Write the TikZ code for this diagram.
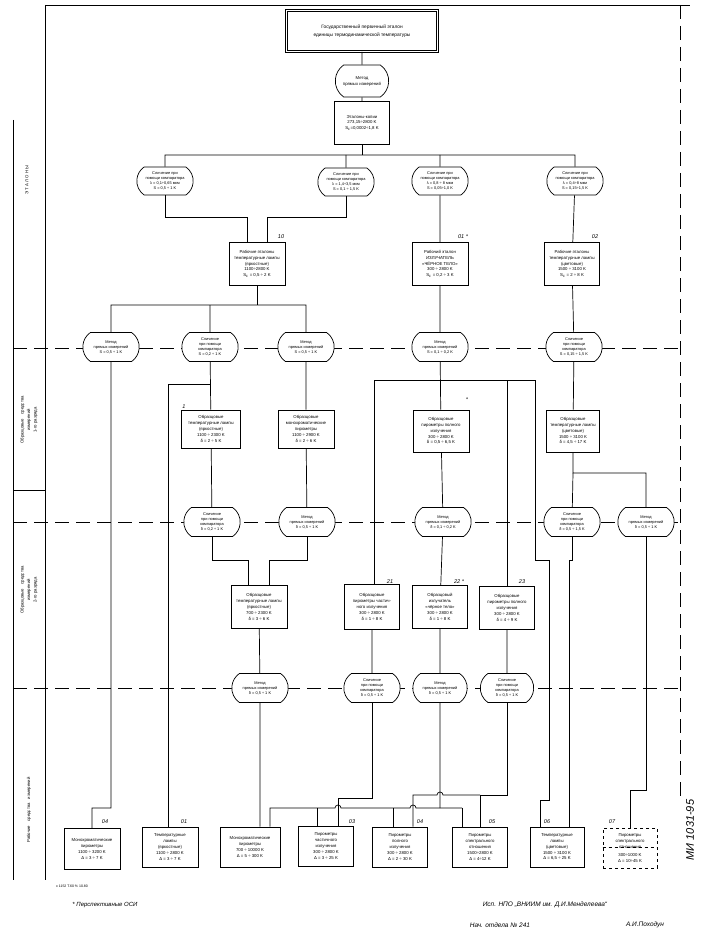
\documentclass[tikz,border=0pt]{standalone}
\usepackage{fontspec}
\setmainfont{Liberation Sans}
\usetikzlibrary{shapes.misc}
\tikzset{
  box/.style={draw, fill=white, align=center, inner sep=0.5pt, font=\fontsize{4.3}{5.8}\selectfont, minimum width=56pt, minimum height=43pt},
  way/.style={draw, fill=white, rounded rectangle, rounded rectangle arc length=110, align=center, inner sep=0.3pt, font=\fontsize{3.9}{5}\selectfont, minimum width=57pt, minimum height=29pt},
  hand/.style={font=\fontsize{5.5}{6}\selectfont\itshape},
  side/.style={rotate=90, align=center, font=\fontsize{4.3}{6.5}\selectfont},
  sep/.style={dash pattern=on 14pt off 7pt},
}

\begin{document}
\begin{tikzpicture}[x=1pt, y=-1pt, line width=0.7pt]
    \useasboundingbox (0,0) rectangle (702,941);

    % frame and zones
    \draw (45,5) -- (690,5);
    \draw (13,120) -- (13,880);
    \draw (45,5) -- (45,880);
    \draw (13,490) -- (45,490);
    \draw[sep] (680,5) -- (680,800);
    \draw[sep] (13,348) -- (680,348);
    \draw[sep] (13,522) -- (680,522);
    \draw[sep] (13,688) -- (680,688);
    \node[side] (zone0) at (27,180) {Э Т А Л О Н Ы};
    \node[side] (zone1) at (29,420) {Образцовые\quad средства\\измерений\\1-го разряда};
    \node[side] (zone2) at (29,590) {Образцовые\quad средства\\измерений\\2-го разряда};
    \node[side] (zone3) at (29,810) {Рабочие\quad средства\quad измерений};

    % etalons
    \node[box, double, double distance=1.5pt, minimum width=151pt, minimum height=41pt, font=\fontsize{4.8}{8}\selectfont] (gpe) at (362,31)
        {Государственный первичный эталон\\единицы термодинамической температуры};
    \node[way, minimum width=54pt, minimum height=32pt, font=\fontsize{4.3}{6}\selectfont] (m0) at (362,81) {Метод\\прямых измерений};
    \node[box, minimum width=55pt] (copies) at (362,123) {Эталоны-копии\\273,15÷2800 K\\S\textsubscript{Σ}=0,0002÷1,8 K};

    \node[way, minimum height=28pt] (c1) at (165,181) {Сличение при\\помощи компаратора\\λ = 0,1÷0,65 мкм\\S = 0,5 ÷ 1 K};
    \node[way, minimum height=28pt] (c2) at (346,182) {Сличение при\\помощи компаратора\\λ = 1,4÷3,5 мкм\\S = 0,1 ÷ 1,5 K};
    \node[way, minimum height=28pt] (c3) at (440,181) {Сличение при\\помощи компаратора\\λ = 0,8 ÷ 8 мкм\\S = 0,05÷1,0 K};
    \node[way, minimum height=28pt] (c4) at (575,181) {Сличение при\\помощи компаратора\\λ = 0,4÷8 мкм\\S = 0,15÷1,5 K};

    \node[box] (e1) at (257,264) {Рабочие эталоны\\температурные лампы\\(яркостные)\\1100÷2800 K\\S\textsubscript{Σ} = 0,5 ÷ 2 K};
    \node[box] (e2) at (440,264) {Рабочий эталон\\ИЗЛУЧАТЕЛЬ\\«ЧЁРНОЕ ТЕЛО»\\300 ÷ 2800 K\\S\textsubscript{Σ} = 0,2 ÷ 3 K};
    \node[box, minimum width=55pt] (e3) at (572,264) {Рабочие эталоны\\температурные лампы\\(цветовые)\\1500 ÷ 3100 K\\S\textsubscript{Σ} = 2 ÷ 8 K};
    \node[hand] (n10) at (281,237) {10};
    \node[hand] (n01) at (463,237) {01 *};
    \node[hand] (n02) at (595,237) {02};

    % first rank
    \node[way] (m1) at (111,347) {Метод\\прямых измерений\\S = 0,5 ÷ 1 K};
    \node[way] (ca) at (210,347) {Сличение\\при помощи\\компаратора\\S = 0,2 ÷ 1 K};
    \node[way] (m2) at (306,347) {Метод\\прямых измерений\\S = 0,5 ÷ 1 K};
    \node[way] (m4) at (440,347) {Метод\\прямых измерений\\S = 0,1 ÷ 0,2 K};
    \node[way] (c5) at (574,347) {Сличение\\при помощи\\компаратора\\S = 0,15 ÷ 1,5 K};

    \node[box, minimum width=59pt, minimum height=38pt] (l1) at (211,429) {Образцовые\\температурные лампы\\(яркостные)\\1100 ÷ 2300 K\\δ = 2 ÷ 5 K};
    \node[box, minimum height=38pt] (p1) at (306,429) {Образцовые\\монохроматические\\пирометры\\1100 ÷ 2900 K\\δ = 2 ÷ 6 K};
    \node[box, minimum height=42pt] (p2) at (441,431) {Образцовые\\пирометры полного\\излучения\\300 ÷ 2800 K\\δ = 0,5 ÷ 6,5 K};
    \node[box, minimum width=53pt, minimum height=42pt] (l2) at (573,431) {Образцовые\\температурные лампы\\(цветовые)\\1500 ÷ 3100 K\\δ = 4,5 ÷ 17 K};
    \node[hand] (n1) at (184,407) {1};
    \node[hand] (nst1) at (467,400) {*};

    % second rank
    \node[way] (cb) at (212,522) {Сличение\\при помощи\\компаратора\\δ = 0,2 ÷ 1 K};
    \node[way] (mb) at (307,522) {Метод\\прямых измерений\\δ = 0,5 ÷ 1 K};
    \node[way] (mc) at (443,522) {Метод\\прямых измерений\\δ = 0,1 ÷ 0,2 K};
    \node[way] (cd) at (572,522) {Сличение\\при помощи\\компаратора\\δ = 0,5 ÷ 1,5 K};
    \node[way] (me) at (646,522) {Метод\\прямых измерений\\δ = 0,5 ÷ 1 K};

    \node[box] (l3) at (259,607) {Образцовые\\температурные лампы\\(яркостные)\\700 ÷ 2300 K\\δ = 3 ÷ 6 K};
    \node[box, minimum width=55pt, minimum height=45pt] (p3) at (372,607) {Образцовые\\пирометры частич-\\ного излучения\\300 ÷ 2800 K\\δ = 1 ÷ 8 K};
    \node[box, minimum width=55pt] (b2) at (440,607) {Образцовый\\излучатель\\«чёрное тело»\\300 ÷ 2800 K\\δ = 1 ÷ 8 K};
    \node[box, minimum width=55pt] (p4) at (507,608) {Образцовые\\пирометры полного\\излучения\\300 ÷ 2800 K\\δ = 4 ÷ 9 K};
    \node[hand] (n21) at (390,582) {21};
    \node[hand] (n22) at (459,582) {22 *};
    \node[hand] (n23) at (522,582) {23};

    % working instruments
    \node[way] (mf) at (260,688) {Метод\\прямых измерений\\δ = 0,5 ÷ 1 K};
    \node[way] (cg) at (372,688) {Сличение\\при помощи\\компаратора\\δ = 0,5 ÷ 1 K};
    \node[way, minimum width=55pt] (mh) at (440,688) {Метод\\прямых измерений\\δ = 0,5 ÷ 1 K};
    \node[way, minimum width=54pt] (ci) at (507,688) {Сличение\\при помощи\\компаратора\\δ = 0,5 ÷ 1 K};

    \node[box, minimum width=56pt, minimum height=41pt] (w1) at (92,849) {Монохроматические\\пирометры\\1100 ÷ 3200 K\\Δ = 3 ÷ 7 K};
    \node[box, minimum width=56pt, minimum height=40pt] (w2) at (170,847) {Температурные\\лампы\\(яркостные)\\1100 ÷ 2800 K\\Δ = 3 ÷ 7 K};
    \node[box, minimum width=60pt, minimum height=40pt] (w3) at (250,847) {Монохроматические\\пирометры\\700 ÷ 10000 K\\Δ = 5 ÷ 300 K};
    \node[box, minimum width=55pt, minimum height=40pt] (w4) at (326,846) {Пирометры\\частичного\\излучения\\300 ÷ 2800 K\\Δ = 3 ÷ 25 K};
    \node[box, minimum width=55pt, minimum height=40pt] (w5) at (400,847) {Пирометры\\полного\\излучения\\300 ÷ 2800 K\\Δ = 2 ÷ 30 K};
    \node[box, minimum width=55pt, minimum height=40pt] (w6) at (480,847) {Пирометры\\спектрального\\отношения\\1500÷2800 K\\Δ = 4÷12 K};
    \node[box, minimum width=54pt, minimum height=40pt] (w7) at (557,847) {Температурные\\лампы\\(цветовые)\\1500 ÷ 3100 K\\Δ = 6,5 ÷ 25 K};
    \node[box, dashed, minimum width=54pt, minimum height=40pt] (w8) at (630,848) {Пирометры\\спектрального\\отношения\\[2pt]300÷1000 K\\Δ = 10÷45 K};
    \draw[dashed, line width=0.5pt] ([yshift=-20pt]w8.north west) -- ([yshift=-20pt]w8.north east);
    \node[hand] (n04) at (105,822) {04};
    \node[hand] (n01b) at (184,822) {01};
    \node[hand] (n03) at (352,822) {03};
    \node[hand] (n04b) at (420,822) {04};
    \node[hand] (n05) at (492,822) {05};
    \node[hand] (n06) at (547,822) {06};
    \node[hand] (n07) at (612,822) {07};

    % connectors
    \coordinate (b0) at (362,155);
    \draw (gpe) -- (m0);
    \draw (m0) -- (copies);
    \draw (copies) -- (b0);
    \draw (c1) -- (c1 |- b0) -- (c4 |- b0) -- (c4);
    \draw (c2) -- (c2 |- b0);
    \draw (c3) -- (c3 |- b0);
    \coordinate (k1) at (247,217);
    \coordinate (k2) at (267,217);
    \draw (c1) |- (k1) -- (k1 |- e1.north);
    \draw (c2) |- (k2) -- (k2 |- e1.north);
    \draw (c3) -- (e2);
    \draw (c4) -- (e3);

    \coordinate (b1) at (257,305);
    \draw (e1) -- (b1);
    \draw (m1) -- (m1 |- b1) -- (m2 |- b1) -- (m2);
    \draw (ca) -- (ca |- b1);
    \draw (e2) -- (m4);
    \draw (e3) -- (c5);

    \coordinate (k3) at (92,808);
    \draw (m1) -- (m1 |- k3) -- (k3) -- (w1);
    \draw (ca) -- (l1);
    \coordinate (k4) at (210,384);
    \coordinate (k5) at (168,384);
    \draw (k4) -- (k5) -- (k5 |- w2.north);
    \draw (l1) -- (cb);
    \coordinate (k6) at (248,560);
    \coordinate (k7) at (269,560);
    \draw (cb) |- (k6) -- (k6 |- l3.north);
    \draw (m2) -- (p1);
    \draw (p1) -- (mb);
    \draw (mb) |- (k7) -- (k7 |- l3.north);
    \draw (l3) -- (mf);
    \draw (mf) -- (mf |- w3.north);

    \coordinate (k9) at (374,380);
    \coordinate (k10) at (535,380);
    \coordinate (k11) at (507,380);
    \draw (k9) -- (k10);
    \draw (m4) -- (p2);
    \draw (k9) -- (k9 |- p3.north);
    \draw (k11) -- (k11 |- p4.north);
    \coordinate (k15) at (549,560);
    \coordinate (k16) at (540,800);
    \draw (k10) |- (k15) |- (k16) -- (k16 |- w7.north);
    \draw (p2) -- (mc);
    \draw (mc) -- (b2);
    \draw (p3) -- (cg);
    \draw (b2) -- (mh);
    \draw (p4) -- (ci);

    \coordinate (k12) at (573,473);
    \coordinate (k13) at (646,473);
    \coordinate (k14) at (569,560);
    \draw (c5) -- (l2);
    \draw (l2) -- (k12) -- (k13) -- (me);
    \draw (k12) -- (cd);
    \draw (cd) |- (k14) -- (k14 |- w7.north);
    \coordinate (k17) at (630,790);
    \draw (me) |- (k17) -- (w8);

    \coordinate (k18) at (440,808);
    \coordinate (k19) at (270,808);
    \coordinate (k23) at (462,808);
    \draw (k23) -- (k18) -- (416,808) arc[start angle=0, end angle=-180, radius=3] -- (341,808) arc[start angle=0, end angle=-180, radius=3] -- (k19) -- (k19 |- w3.north);
    \draw (mh) -- (k18);
    \draw (k23) -- (k23 |- w6.north);
    \draw (317,808) -- (317,826);
    \draw (393,808) -- (393,827);
    \coordinate (k20) at (338,798);
    \draw (cg) |- (k20) -- (k20 |- w4.north);
    \coordinate (k21) at (413,795);
    \coordinate (k22) at (480,795);
    \draw (ci) |- (k22) -- (k22 |- w6.north);
    \draw (k22) -- (443,795) arc[start angle=0, end angle=-180, radius=3] -- (k21) -- (k21 |- w5.north);

    % notes
    \node[hand, font=\fontsize{6}{7}\selectfont\itshape] (star) at (105,905) {* Перспективные ОСИ};
    \node[font=\fontsize{3.5}{4}\selectfont] (print) at (72,886) {x 1152 T.60 \% 10.80};
    \node[hand, font=\fontsize{6.5}{7}\selectfont\itshape] (isp) at (545,905) {Исп. НПО „ВНИИМ им. Д.И.Менделеева“};
    \node[hand, font=\fontsize{6.5}{7}\selectfont\itshape] (nach) at (500,925) {Нач. отдела № 241};
    \node[hand, font=\fontsize{6.5}{7}\selectfont\itshape] (sign) at (645,925) {А.И.Походун};
    \node[hand, rotate=90, font=\fontsize{11}{12}\selectfont\itshape] (mi) at (690,830) {МИ 1031-95};
\end{tikzpicture}
\end{document}
